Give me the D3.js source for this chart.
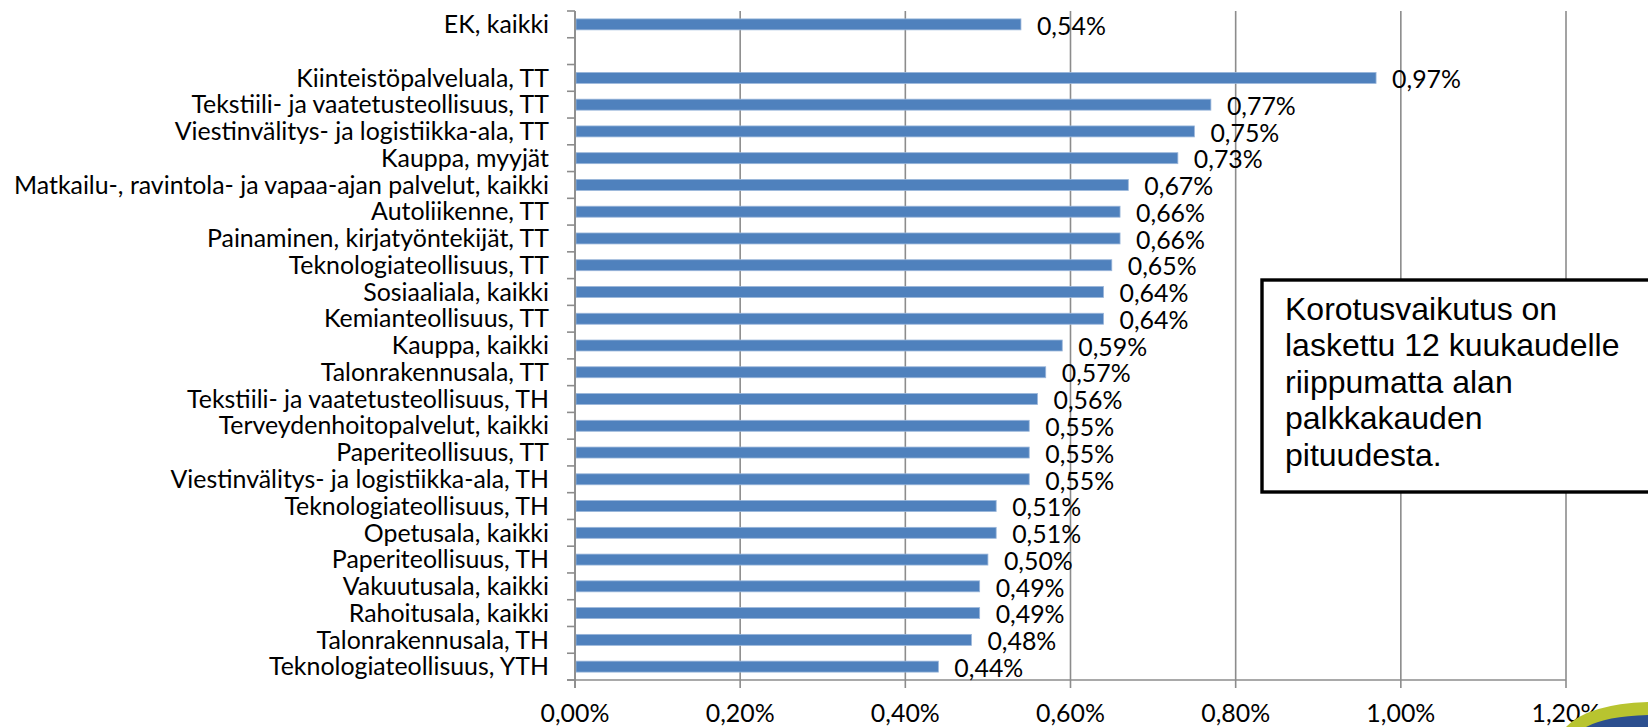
<!DOCTYPE html>
<html>
<head>
<meta charset="utf-8">
<script src="https://cdn.jsdelivr.net/npm/d3@7"></script>
<style>
  body { margin: 0; background: #fff; overflow: hidden; }
  text { font-family: Lato, "Noto Sans", sans-serif; fill: #000; }
</style>
</head>
<body>
<script>
// categories top to bottom, "" is the empty gap row under EK
var categories = [
  "EK, kaikki",
  "",
  "Kiinteistöpalveluala, TT",
  "Tekstiili- ja vaatetusteollisuus, TT",
  "Viestinvälitys- ja logistiikka-ala, TT",
  "Kauppa, myyjät",
  "Matkailu-, ravintola- ja vapaa-ajan palvelut, kaikki",
  "Autoliikenne, TT",
  "Painaminen, kirjatyöntekijät, TT",
  "Teknologiateollisuus, TT",
  "Sosiaaliala, kaikki",
  "Kemianteollisuus, TT",
  "Kauppa, kaikki",
  "Talonrakennusala, TT",
  "Tekstiili- ja vaatetusteollisuus, TH",
  "Terveydenhoitopalvelut, kaikki",
  "Paperiteollisuus, TT",
  "Viestinvälitys- ja logistiikka-ala, TH",
  "Teknologiateollisuus, TH",
  "Opetusala, kaikki",
  "Paperiteollisuus, TH",
  "Vakuutusala, kaikki",
  "Rahoitusala, kaikki",
  "Talonrakennusala, TH",
  "Teknologiateollisuus, YTH"
];
// values in percent, null = no bar
var values = [
  0.54, null, 0.97, 0.77, 0.75, 0.73, 0.67, 0.66, 0.66, 0.65, 0.64, 0.64,
  0.59, 0.57, 0.56, 0.55, 0.55, 0.55, 0.51, 0.51, 0.50, 0.49, 0.49, 0.48, 0.44
];
var xTicks = [0, 0.2, 0.4, 0.6, 0.8, 1.0, 1.2];
var noteLines = [
  "Korotusvaikutus on",
  "laskettu 12 kuukaudelle",
  "riippumatta alan",
  "palkkakauden",
  "pituudesta."
];

var width = 1648, height = 727;
var plot = {left: 575, right: 1566, top: 11, bottom: 680};

var fi = d3.formatLocale({decimal: ",", thousands: " ", grouping: [3], currency: ["", "€"]});
var pct = function(v) { return fi.format(".2f")(v) + "%"; };

var svg = d3.select("body").append("svg")
  .attr("width", width)
  .attr("height", height);

var x = d3.scaleLinear().domain([0, 1.2]).range([plot.left, plot.right]);
var y = d3.scaleBand().domain(d3.range(categories.length))
  .range([plot.top, plot.bottom]).paddingInner(0.59).paddingOuter(0.295);
var yb = d3.scaleBand().domain(d3.range(categories.length))
  .range([plot.top, plot.bottom]);

// vertical gridlines with ticks below axis
svg.append("g")
  .selectAll("line")
  .data(xTicks)
  .enter()
  .append("line")
  .attr("x1", d => x(d)).attr("x2", d => x(d))
  .attr("y1", plot.top).attr("y2", plot.bottom + 8)
  .attr("stroke", "#8c8c8c")
  .attr("stroke-width", 1.6);

// x axis line
svg.append("line")
  .attr("x1", plot.left - 8).attr("x2", plot.right)
  .attr("y1", plot.bottom).attr("y2", plot.bottom)
  .attr("stroke", "#8c8c8c").attr("stroke-width", 1.6);

// y axis ticks at band boundaries
var bounds = d3.range(categories.length + 1).map(i => plot.top + i * yb.step());
svg.append("g")
  .selectAll("line")
  .data(bounds)
  .enter()
  .append("line")
  .attr("x1", plot.left - 8).attr("x2", plot.left)
  .attr("y1", d => d).attr("y2", d => d)
  .attr("stroke", "#8c8c8c").attr("stroke-width", 1.6);

// bars
var rows = categories.map((c, i) => ({c: c, v: values[i], i: i}));
svg.selectAll(".bar")
  .data(rows.filter(d => d.v != null))
  .enter()
  .append("rect")
  .attr("class", "bar")
  .attr("x", x(0) + 1)
  .attr("y", d => y(d.i))
  .attr("width", d => x(d.v) - x(0) - 1)
  .attr("height", y.bandwidth())
  .attr("fill", "#4f81bd")
  .attr("stroke", "#9ab6da")
  .attr("stroke-width", 0.8);

// y axis line
svg.append("line")
  .attr("x1", plot.left).attr("x2", plot.left)
  .attr("y1", plot.top).attr("y2", plot.bottom + 8)
  .attr("stroke", "#8c8c8c").attr("stroke-width", 1.6);

// category labels
svg.selectAll(".cat")
  .data(rows)
  .enter()
  .append("text")
  .attr("class", "cat")
  .attr("x", 549)
  .attr("y", d => yb(d.i) + yb.bandwidth() / 2)
  .attr("dy", "0.35em")
  .attr("text-anchor", "end")
  .style("font-size", "24.9px")
  .text(d => d.c);

// value labels
svg.selectAll(".val")
  .data(rows.filter(d => d.v != null))
  .enter()
  .append("text")
  .attr("class", "val")
  .attr("x", d => x(d.v) + 16)
  .attr("y", d => yb(d.i) + yb.bandwidth() / 2 + 1.5)
  .attr("dy", "0.35em")
  .style("font-size", "24.9px")
  .text(d => pct(d.v));

// x tick labels
svg.selectAll(".xt")
  .data(xTicks)
  .enter()
  .append("text")
  .attr("class", "xt")
  .attr("x", d => x(d))
  .attr("y", 722)
  .attr("text-anchor", "middle")
  .style("font-size", "24.9px")
  .text(d => pct(d));

// note box
svg.append("rect")
  .attr("x", 1262).attr("y", 280)
  .attr("width", 420).attr("height", 212)
  .attr("fill", "#fff")
  .attr("stroke", "#000")
  .attr("stroke-width", 3.4);

svg.append("g")
  .selectAll("text")
  .data(noteLines)
  .enter()
  .append("text")
  .attr("x", 1285)
  .attr("y", (d, i) => 320 + i * 36.4)
  .style("font-family", "'Liberation Sans', Arial, sans-serif")
  .style("font-size", "32px")
  .text(d => d);

// corner logo swoosh
svg.append("path")
  .attr("d", "M1566,727 Q1588,704 1648,702 L1648,727 Z")
  .attr("fill", "#b8c42f");
svg.append("path")
  .attr("d", "M1586,727 Q1606,716 1648,715 L1648,727 Z")
  .attr("fill", "#2c4f8f");
</script>
</body>
</html>
